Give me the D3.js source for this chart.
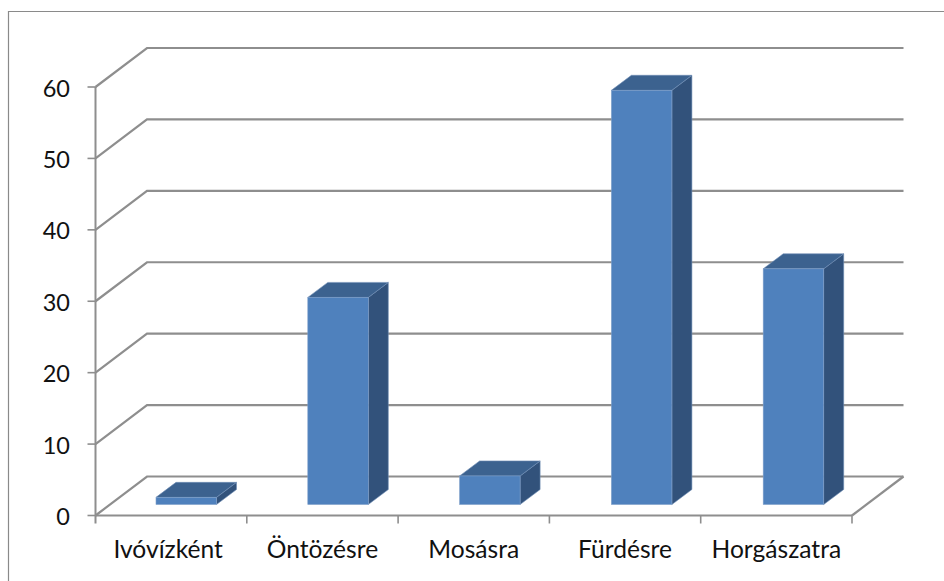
<!DOCTYPE html>
<html><head><meta charset="utf-8">
<script src="https://cdn.jsdelivr.net/npm/d3@7"></script>
<style>html,body{margin:0;padding:0;background:#fff}svg{display:block}text{font-family:Lato,"Open Sans",sans-serif;fill:#111}</style>
</head><body><svg id="c" width="944" height="581"></svg>
<script>
const categories=["Ivóvízként","Öntözésre","Mosásra","Fürdésre","Horgászatra"];
const values=[1,29,4,58,33];
const yTicks=[0,10,20,30,40,50,60];
const svg=d3.select("#c");
const W=944,H=581;
const pLeft=95.5,pRight=852,pBottom=515.5,pTop=87,dx=51.5,dy=-39;
const x=d3.scaleBand().domain(categories).range([pLeft,pRight]);
const xBar=d3.scaleBand().domain(categories).range([96,855]);
const y=d3.scaleLinear().domain([0,60]).range([pBottom,pTop]);
const grey="#8e8e8e";
// frame
svg.append("path").attr("d",`M8.5,${H}V11.5H${W}`).attr("fill","none").attr("stroke","#8a8a8a").attr("stroke-width",1.2);
const line=(d,w=2.2)=>svg.append("path").attr("d",d).attr("fill","none").attr("stroke",grey).attr("stroke-width",w);
// gridlines with depth, floor
yTicks.forEach(t=>{
  const p=y(t);
  line(`M${pLeft},${p}L${pLeft+dx},${p+dy}H${pRight+dx}`);
});
line(`M${pRight},${pBottom}L${pRight+dx},${pBottom+dy}`);
// axes
line(`M${pLeft},${pTop}V${pBottom+8}`,2);
line(`M${pLeft},${pBottom}H${pRight}`,2);
yTicks.forEach(t=>{line(`M${pLeft-8},${y(t)}H${pLeft}`,1.6);});
categories.forEach(c=>{line(`M${x(c)+x.bandwidth()},${pBottom}v8`,1.6);});
// labels
yTicks.forEach(t=>svg.append("text").attr("x",70).attr("y",y(t)+9.5).attr("text-anchor","end").attr("font-size",23.5).text(t));
categories.forEach((c,i)=>svg.append("text").attr("x",x(c)+x.bandwidth()/2-(i===0?3:0)).attr("y",558).attr("text-anchor","middle").attr("font-size",24.6).text(c));
// bars
const barInset=60, barW=60.5, bdx=20, bdy=-15, base=11;
const g=svg.selectAll("g.bar").data(categories.map((c,i)=>({c,v:values[i]}))).join("g").attr("class","bar");
g.each(function(d){
  const s=d3.select(this);
  const x0=xBar(d.c)+barInset, x1=x0+barW, yb=y(0)-base, yt=yb-(y(0)-y(d.v));
  const edge="#7f9fc9";
  s.append("path").attr("d",`M${x1},${yt}l${bdx},${bdy}V${yb+bdy}l${-bdx},${-bdy}Z`).attr("fill","#32527b").attr("stroke","#6f8db5").attr("stroke-width",.6);
  s.append("path").attr("d",`M${x0},${yt}l${bdx},${bdy}H${x1+bdx}l${-bdx},${-bdy}Z`).attr("fill","#3c628f").attr("stroke","#6f8db5").attr("stroke-width",.6);
  s.append("rect").attr("x",x0).attr("y",yt).attr("width",barW).attr("height",yb-yt).attr("fill","#4f81bd").attr("stroke",edge).attr("stroke-width",.6);
});
</script></body></html>
